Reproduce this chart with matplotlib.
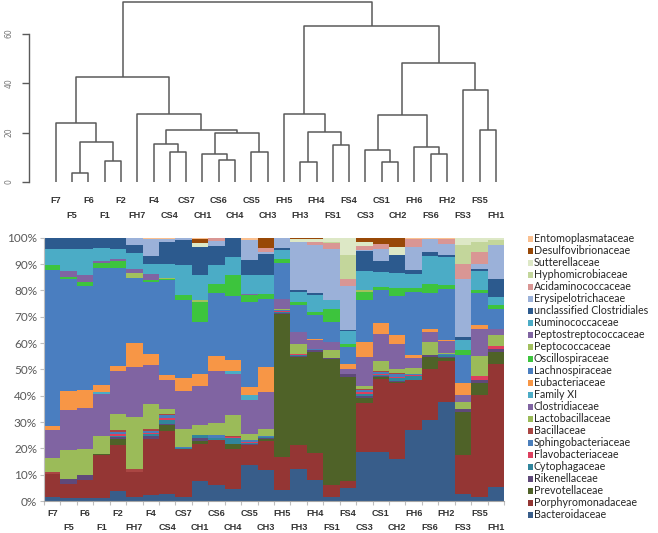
import numpy as np
import pandas as pd
import matplotlib
matplotlib.use("Agg")
import matplotlib.pyplot as plt
from matplotlib.patches import Rectangle

# samples in dendrogram order
samples = ["F7", "F5", "F6", "F1", "F2", "FH7", "F4", "CS4", "CS7", "CH1", "CS6", "CH4", "CS5", "CH3",
           "FH5", "FH3", "FH4", "FS1", "FS4", "CS3", "CS1", "CH2", "FH6", "FS6", "FH2", "FS3", "FS5", "FH1"]

# hclust merges: (left, right, height); ints refer to earlier merges (1-based)
merges = [
    ("F5", "F6", 3.6), ("CS1", "CH2", 8.1), ("FH3", "FH4", 8.2), ("F1", "F2", 8.6),
    ("CS6", "CH4", 8.7), ("CH1", 5, 11.2), ("FS6", "FH2", 11.3), ("CS4", "CS7", 12.0),
    ("CS5", "CH3", 12.3), ("CS3", 2, 12.8), ("FH6", 7, 14.1), ("FS1", "FS4", 14.8),
    ("F4", 8, 15.4), (1, 4, 16.2), (6, 9, 19.9), (3, 12, 20.2), (13, 15, 21.0),
    ("FS5", "FH1", 21.1), ("F7", 14, 24.0), (10, 11, 27.2), ("FH7", 17, 27.3),
    ("FH5", 16, 27.3), ("FS3", 18, 37.3), (19, 21, 42.3), (20, 23, 48.1),
    (22, 25, 63.0), (24, 26, 72.8),
]

# relative abundance (%), stacked bottom -> top
bacteroidaceae = [1.5, 1.2, 1.3, 1.0, 3.7, 1.5, 2.2, 2.8, 1.5, 7.5, 6.0, 4.7, 13.5, 11.6, 4.1, 12.3, 7.8, 1.5, 5.0, 18.6, 18.6, 16.0, 27.0, 30.6, 37.6, 2.8, 1.5, 5.3]
porphyromonadaceae = [8.6, 5.1, 6.5, 16.3, 17.4, 9.5, 21.5, 23.7, 18.4, 14.0, 17.3, 15.2, 7.6, 11.1, 12.6, 8.8, 10.6, 4.4, 2.5, 18.4, 27.9, 28.8, 19.0, 19.7, 15.4, 14.5, 38.6, 46.9]
prevotellaceae = [0, 0, 0, 0.4, 2.6, 0, 0, 2.2, 0, 1.3, 0, 1.9, 0, 0.7, 54.4, 33.6, 38.2, 48.1, 39.6, 2.2, 0.5, 0.4, 0, 4.4, 1.5, 16.5, 4.8, 4.4]
rikenellaceae = [0.3, 2.2, 1.9, 0, 0.5, 0, 0.8, 0.6, 0, 1.2, 0, 0, 0.5, 0.4, 0.5, 0.3, 0.6, 0.2, 1.2, 0.6, 0.3, 0.4, 0, 0.6, 0.3, 1.3, 0.9, 1.0]
cytophagaceae = [0, 0, 0, 0, 0.6, 0, 0.8, 1.5, 0.3, 1.0, 0.8, 2.3, 0.6, 0.6, 0.4, 0.3, 0, 0.2, 0, 0.8, 0.6, 1.0, 1.3, 0, 0.5, 0, 0, 0]
flavobacteriaceae = [0, 0, 0, 0, 0.5, 0, 0.6, 0.8, 0, 0, 0, 0.2, 0.3, 0, 0.3, 0.4, 0, 0, 0, 0.7, 0.5, 0.6, 0.6, 0, 0, 0, 1.5, 1.1]
sphingobacteriaceae = [0, 0, 0, 0, 1.0, 0, 0.8, 1.0, 0.3, 0, 0.9, 0, 0.5, 0.4, 0.3, 0, 0.4, 0, 0, 0.8, 0.6, 0.9, 0.5, 0, 0.4, 0, 0, 0]
bacillaceae = [0.7, 0, 0, 0, 0.7, 1.0, 0.6, 0.5, 0, 0, 0, 0.2, 0, 0, 0.2, 0, 0, 0, 0, 0.5, 0.3, 0.4, 0, 0, 0, 0, 0, 0]
lactobacillaceae = [5.2, 10.7, 10.2, 7.0, 6.2, 20.1, 9.7, 2.0, 6.9, 3.7, 4.5, 8.3, 2.6, 2.7, 0.5, 3.8, 0, 2.8, 0, 1.1, 4.0, 1.5, 2.0, 5.1, 0.6, 2.5, 7.8, 4.2]
clostridiaceae = [10.6, 15.2, 15.5, 16.1, 16.0, 18.9, 14.8, 10.7, 14.5, 15.1, 20.0, 15.6, 12.9, 13.9, 3.7, 4.7, 3.4, 3.2, 1.9, 11.0, 10.0, 9.5, 4.0, 3.8, 4.4, 2.5, 10.3, 2.3]
family_xi = [0, 0, 0, 0.6, 0, 0, 0, 0, 0, 0, 0, 0.9, 1.6, 0, 0, 0, 0, 0, 0, 0, 0, 0, 0, 0, 0, 0, 0, 0]
eubacteriaceae = [1.5, 7.2, 6.8, 2.8, 2.1, 9.3, 4.1, 2.2, 4.8, 4.4, 5.5, 4.1, 3.2, 9.5, 0, 0, 0.6, 0, 1.7, 5.7, 4.4, 3.5, 0.9, 1.0, 0.3, 4.8, 1.6, 0]
lachnospiraceae = [59.1, 42.8, 39.4, 44.3, 37.2, 24.7, 27.3, 36.0, 29.7, 19.8, 24.0, 24.4, 32.3, 25.9, 13.5, 10.1, 8.9, 7.6, 6.6, 15.8, 12.3, 15.0, 24.0, 13.9, 19.6, 10.4, 12.1, 7.6]
oscillospiraceae = [1.7, 0.6, 1.6, 2.0, 2.5, 0, 0.6, 0.3, 1.9, 7.6, 3.5, 7.9, 2.5, 1.9, 1.8, 1.3, 1.3, 4.8, 1.2, 3.2, 1.3, 3.0, 1.5, 3.4, 1.6, 1.9, 0.9, 1.8]
peptococcaceae = [0, 0, 0, 0, 0, 1.9, 0, 0.5, 0, 0.6, 0, 0, 0, 0, 0, 0, 0, 0, 0, 0.4, 0, 0, 0, 0, 0, 0, 0, 0]
peptostreptococcaceae = [0, 2.3, 2.7, 0.6, 0.8, 1.3, 2.5, 0, 0, 0, 0, 0, 0.5, 0, 0, 0, 0, 0, 0, 0, 0, 0, 0, 0, 0, 0, 0, 0]
ruminococcaceae = [6.3, 8.3, 9.9, 5.0, 4.0, 6.3, 3.8, 5.4, 11.1, 9.5, 7.0, 7.0, 7.1, 7.0, 3.5, 3.8, 6.3, 3.4, 4.7, 7.2, 5.7, 5.7, 5.5, 10.5, 10.5, 3.8, 7.2, 2.9]
uncl_clostridiales = [4.2, 4.4, 4.2, 3.9, 4.2, 3.2, 2.9, 8.3, 9.5, 10.8, 7.5, 7.3, 5.7, 8.2, 0.6, 0.8, 0.9, 0.3, 0.4, 7.6, 4.0, 6.8, 1.3, 1.6, 0.8, 1.3, 1.0, 6.9]
erysipelotrichaceae = [0, 0, 0, 0, 0, 2.3, 6.6, 1.0, 0.8, 0, 1.8, 0, 7.6, 0.5, 3.6, 18.2, 18.1, 19.3, 16.8, 0.4, 4.8, 0, 9.0, 4.8, 4.2, 22.1, 1.9, 12.9]
acidaminococcaceae = [0, 0, 0, 0, 0, 0, 0, 0, 0, 0, 1.0, 0, 0, 1.5, 0, 0, 1.3, 2.3, 2.6, 1.8, 1.9, 0, 3.0, 0, 1.9, 5.7, 4.5, 0]
hyphomicrobiaceae = [0, 0, 0, 0, 0, 0, 0, 0, 0, 0, 0, 0, 0, 0, 0, 0, 0, 0.4, 9.1, 0, 0, 0, 0, 0, 0, 7.0, 3.8, 1.7]
sutterellaceae = [0, 0, 0, 0, 0, 0, 0, 0, 0, 1.4, 0, 0, 0, 0, 0, 1.0, 1.0, 1.5, 6.7, 1.2, 0, 3.0, 0, 0, 0, 2.9, 1.6, 1.0]
desulfovibrionaceae = [0, 0, 0, 0, 0, 0, 0, 0, 0, 1.7, 0, 0, 0, 4.1, 0, 0.6, 0.6, 0, 0, 1.8, 2.3, 3.5, 0, 0, 0, 0, 0, 0]
entomoplasmataceae = [0, 0, 0, 0, 0, 0.3, 0.4, 0.5, 0.2, 0.4, 0.2, 0, 1.0, 0, 0.3, 0, 0, 0, 0, 0, 0, 0, 0.4, 0.6, 0.4, 0, 0, 0]

families = ["Bacteroidaceae", "Porphyromonadaceae", "Prevotellaceae", "Rikenellaceae", "Cytophagaceae",
            "Flavobacteriaceae", "Sphingobacteriaceae", "Bacillaceae", "Lactobacillaceae", "Clostridiaceae",
            "Family XI", "Eubacteriaceae", "Lachnospiraceae", "Oscillospiraceae", "Peptococcaceae",
            "Peptostreptococcaceae", "Ruminococcaceae", "unclassified Clostridiales", "Erysipelotrichaceae",
            "Acidaminococcaceae", "Hyphomicrobiaceae", "Sutterellaceae", "Desulfovibrionaceae", "Entomoplasmataceae"]
values = [bacteroidaceae, porphyromonadaceae, prevotellaceae, rikenellaceae, cytophagaceae, flavobacteriaceae,
          sphingobacteriaceae, bacillaceae, lactobacillaceae, clostridiaceae, family_xi, eubacteriaceae,
          lachnospiraceae, oscillospiraceae, peptococcaceae, peptostreptococcaceae, ruminococcaceae,
          uncl_clostridiales, erysipelotrichaceae, acidaminococcaceae, hyphomicrobiaceae, sutterellaceae,
          desulfovibrionaceae, entomoplasmataceae]
colors = ["#385D8A", "#943634", "#4F6228", "#5F497A", "#31859C", "#DD3F5E", "#4A7EBB", "#AA4643",
          "#9BBB59", "#8064A2", "#4BACC6", "#F79646", "#4A7EC0", "#3DC43D", "#A2C05E", "#8064A2",
          "#4BACC6", "#2C5A8E", "#9BB1D9", "#D99694", "#C3D69B", "#DDE8C6", "#984807", "#FAC090"]

df = pd.DataFrame(dict(zip(families, values)), index=samples)
df = df.div(df.sum(axis=1), axis=0) * 100  # 100% stacked

W, H = 658, 533
fig = plt.figure(figsize=(W / 100, H / 100), dpi=100)
label_font = dict(family=["Liberation Sans Narrow", "Liberation Sans"], fontweight="bold", fontsize=6.6, color="#333333")

# ---- dendrogram ----
ax_d = fig.add_axes([29 / W, 1 - 190 / H, 481 / W, 189 / H])
leaf_pos = {s: i for i, s in enumerate(samples)}
node_x, node_h = {}, {}

def node(ref):
    if isinstance(ref, str):
        return leaf_pos[ref], 0.0
    return node_x[ref], node_h[ref]

lc = "#5a5a5a"
for k, (a, b, h) in enumerate(merges, start=1):
    xa, ha = node(a)
    xb, hb = node(b)
    ax_d.plot([xa, xa, xb, xb], [ha, h, h, hb], color=lc, lw=1.1, solid_capstyle="butt")
    node_x[k] = (xa + xb) / 2
    node_h[k] = h

ax_d.set_xlim((29 - 55.7) / 16.3, (510 - 55.7) / 16.3)
ax_d.set_ylim((182 - 190) / 2.475, (182 - 1) / 2.475)
for s in ["top", "right", "bottom"]:
    ax_d.spines[s].set_visible(False)
ax_d.spines["left"].set_bounds(0, 60)
ax_d.spines["left"].set_color(lc)
ax_d.spines["left"].set_linewidth(1.0)
ax_d.set_xticks([])
ax_d.set_yticks([0, 20, 40, 60])
ax_d.set_yticklabels(["0", "20", "40", "60"], rotation=90, va="center", fontsize=5.5, color="#777777")
ax_d.tick_params(axis="y", length=5, width=1.0, color=lc, pad=6)
ax_d.patch.set_alpha(0)
for i, s in enumerate(samples):
    yy = (182 - 200) / 2.475 if i % 2 == 0 else (182 - 215) / 2.475
    ax_d.text(i, yy, s, ha="center", va="center", clip_on=False, **label_font)

# ---- stacked bars ----
ax = fig.add_axes([44 / W, 1 - 501 / H, 460 / W, 263.3 / H])
x = np.arange(len(samples))
bottom = np.zeros(len(samples))
for fam, col in zip(families, colors):
    v = df[fam].values
    ax.bar(x, v, bottom=bottom, width=1.0, color=col, edgecolor="none", linewidth=0)
    bottom += v

ax.set_xlim(-0.5, len(samples) - 0.5)
ax.set_ylim(0, 100)
ax.set_yticks(np.arange(0, 101, 10))
ax.set_yticklabels([f"{t}%" for t in range(0, 101, 10)], fontsize=8.5, color="#595959", family=["Lato", "DejaVu Sans"])
ax.set_xticks(np.arange(-0.5, len(samples), 1))
ax.set_xticklabels([])
ax.tick_params(axis="both", length=3, width=0.8, color="#BFBFBF", pad=2)
for s in ["top", "right"]:
    ax.spines[s].set_visible(False)
ax.spines["left"].set_color("#BFBFBF")
ax.spines["bottom"].set_color("#A6A6A6")
for i, s in enumerate(samples):
    yy = (501 - 514) / 263.3 if i % 2 == 0 else (501 - 528) / 263.3
    ax.text(i, yy, s, ha="center", va="center", transform=ax.get_xaxis_transform(), clip_on=False, **label_font)

# ---- legend (top entry = top of stack) ----
for k, (fam, col) in enumerate(zip(families[::-1], colors[::-1])):
    yc = 239 + k * 12.0
    fig.add_artist(Rectangle((527.5 / W, 1 - (yc + 2.6) / H), 5.2 / W, 5.2 / H,
                             transform=fig.transFigure, facecolor=col, edgecolor="none"))
    fig.text(534 / W, 1 - yc / H, fam, ha="left", va="center", fontsize=7.7, color="#262626",
             family=["Lato", "DejaVu Sans"])

fig.savefig("out.png", dpi=100)
